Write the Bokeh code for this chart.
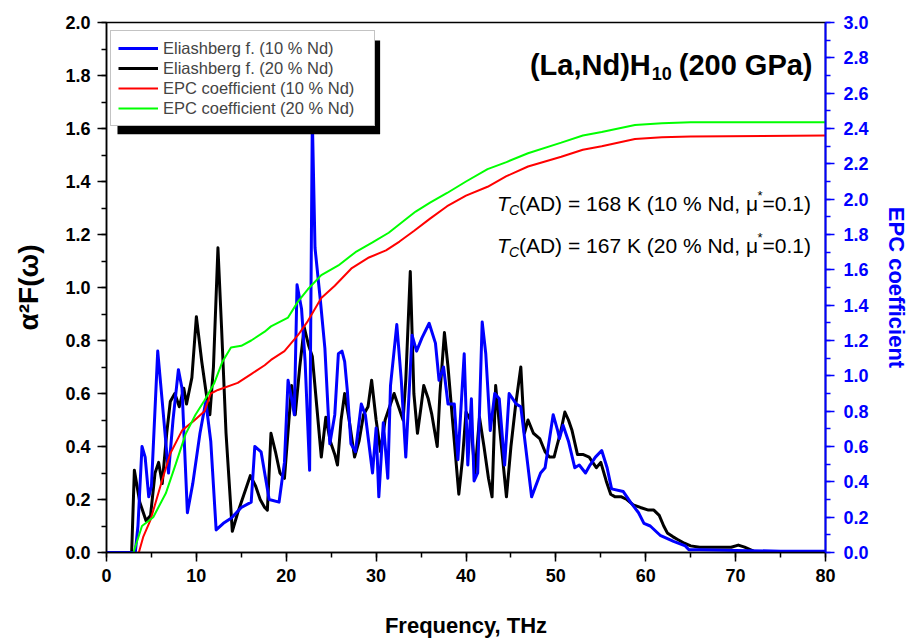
from bokeh.plotting import figure
from bokeh.models import (LinearAxis, Range1d, SingleIntervalTicker, Legend,
                          LegendItem, BoxAnnotation, Label, PrintfTickFormatter)
from bokeh.embed import file_html
from bokeh.resources import INLINE

# ---------------- data ----------------
# Eliashberg function, 20 % Nd (black)
freq_20 = [0.0, 2.8, 3.1, 3.7, 4.4, 4.9, 5.4, 5.8, 6.2, 6.7,
           7.1, 7.6, 8.1, 8.6, 8.9, 9.5, 10.0, 10.6, 11.1, 11.5,
           11.9, 12.4, 12.8, 13.3, 14.0, 14.6, 15.3, 16.0, 16.6, 17.1,
           17.6, 17.9, 18.3, 18.8, 19.3, 19.8, 20.3, 20.6, 21.0, 21.5,
           22.0, 22.5, 22.9, 23.4, 23.9, 24.4, 24.9, 25.4, 25.7, 26.1,
           26.5, 27.0, 27.6, 28.1, 28.6, 29.1, 29.5, 30.0, 30.5, 31.0,
           31.5, 32.0, 32.5, 33.0, 33.3, 33.8, 34.2, 34.6, 35.0, 35.3,
           35.8, 36.2, 36.8, 37.1, 37.6, 38.0, 38.5, 39.2, 39.6, 40.0,
           40.5, 41.0, 41.5, 42.0, 42.5, 42.9, 43.3, 43.8, 44.5, 45.0,
           45.5, 46.1, 46.5, 46.9, 47.5, 48.2, 48.8, 49.3, 49.8, 50.1,
           50.5, 51.0, 51.4, 51.8, 52.4, 53.0, 53.7, 54.5, 55.0, 55.6,
           56.1, 56.6, 57.3, 57.9, 58.6, 59.4, 60.3, 60.9, 61.5, 62.0,
           62.4, 63.0, 63.5, 64.3, 65.0, 66.0, 68.0, 69.5, 70.3, 71.0,
           72.0, 73.0, 80.0]
a2f_20 = [0.0, 0.0, 0.31, 0.19, 0.12, 0.14, 0.30, 0.34, 0.26, 0.45,
          0.57, 0.60, 0.55, 0.62, 0.56, 0.66, 0.89, 0.72, 0.60, 0.52,
          0.70, 1.15, 0.85, 0.45, 0.08, 0.15, 0.22, 0.29, 0.25, 0.20,
          0.17, 0.16, 0.45, 0.38, 0.30, 0.28, 0.50, 0.63, 0.52, 0.70,
          0.85, 0.78, 0.74, 0.55, 0.36, 0.51, 0.42, 0.37, 0.33, 0.50,
          0.60, 0.50, 0.36, 0.42, 0.52, 0.55, 0.65, 0.50, 0.38, 0.50,
          0.55, 0.60, 0.55, 0.50, 0.65, 1.06, 0.60, 0.45, 0.55, 0.63,
          0.58, 0.52, 0.40, 0.60, 0.83, 0.70, 0.50, 0.22, 0.35, 0.53,
          0.50, 0.30, 0.51, 0.40, 0.28, 0.21, 0.63, 0.45, 0.21, 0.40,
          0.55, 0.70, 0.45, 0.50, 0.45, 0.43, 0.38, 0.36, 0.36, 0.40,
          0.45, 0.53, 0.50, 0.46, 0.37, 0.37, 0.36, 0.32, 0.34, 0.27,
          0.22, 0.21, 0.21, 0.20, 0.18, 0.17, 0.16, 0.16, 0.14, 0.10,
          0.074, 0.06, 0.05, 0.035, 0.025, 0.02, 0.02, 0.02, 0.028, 0.02,
          0.005, 0.0, 0.0]

# Eliashberg function, 10 % Nd (blue)
freq_10 = [0.0, 3.2, 3.5, 3.95, 4.3, 4.7, 5.0, 5.7, 6.2, 6.9,
           7.4, 8.0, 8.4, 9.0, 9.6, 10.4, 11.05, 11.6, 12.2, 13.0,
           13.9, 15.0, 16.1, 16.5, 17.2, 17.6, 18.1, 19.2, 19.8, 20.2,
           20.6, 20.9, 21.2, 21.7, 22.1, 22.6, 22.9, 23.2, 23.8, 24.3,
           24.85, 25.4, 25.8, 26.2, 26.5, 26.8, 27.2, 27.7, 28.35, 28.8,
           29.6, 30.0, 30.3, 30.8, 31.3, 31.6, 32.3, 32.8, 33.3, 34.0,
           34.5, 35.1, 35.9, 36.6, 37.0, 37.5, 38.0, 38.7, 39.1, 39.8,
           40.2, 40.6, 40.9, 41.3, 41.8, 42.2, 42.7, 43.2, 43.7, 44.3,
           44.8, 45.6, 46.1, 47.3, 48.3, 48.8, 49.7, 50.2, 50.4, 50.8,
           51.4, 52.1, 52.6, 53.3, 53.8, 54.4, 55.1, 55.7, 56.2, 57.5,
           58.3, 59.2, 59.8, 60.5, 61.6, 63.1, 64.4, 64.8, 66.0, 70.0,
           75.0, 80.0]
a2f_10 = [0.0, 0.0, 0.10, 0.40, 0.36, 0.21, 0.25, 0.76, 0.57, 0.30,
          0.50, 0.69, 0.62, 0.15, 0.26, 0.45, 0.57, 0.42, 0.085, 0.11,
          0.13, 0.17, 0.19, 0.40, 0.38, 0.30, 0.20, 0.19, 0.34, 0.65,
          0.58, 0.52, 1.01, 0.92, 0.72, 0.31, 1.64, 1.15, 0.95, 0.77,
          0.41, 0.52, 0.75, 0.76, 0.72, 0.61, 0.41, 0.38, 0.56, 0.52,
          0.30, 0.47, 0.21, 0.49, 0.28, 0.63, 0.86, 0.65, 0.36, 0.82,
          0.76, 0.81, 0.865, 0.79, 0.65, 0.70, 0.56, 0.56, 0.35, 0.75,
          0.33, 0.58, 0.27, 0.30, 0.87, 0.75, 0.46, 0.60, 0.58, 0.33,
          0.60, 0.56, 0.55, 0.21, 0.30, 0.32, 0.52, 0.46, 0.43, 0.48,
          0.42, 0.32, 0.33, 0.30, 0.33, 0.36, 0.385, 0.32, 0.24, 0.23,
          0.19, 0.15, 0.11, 0.10, 0.065, 0.042, 0.025, 0.01, 0.01, 0.008,
          0.005, 0.005]

# EPC coefficient (cumulative lambda), right axis
freq_epc_10 = [3.6, 4.1, 4.9, 6.2, 7.1, 8.4, 9.7, 10.9, 11.6, 12.4,
               14.6, 16.1, 17.6, 18.3, 19.8, 21.3, 22.4, 23.9, 25.4, 27.3,
               29.2, 31.1, 32.6, 34.2, 36.0, 37.9, 40.0, 42.4, 44.5, 46.9,
               50.6, 53.0, 55.1, 58.8, 61.8, 65.0, 80.0]
epc_10 = [0.0, 0.09, 0.185, 0.41, 0.56, 0.69, 0.745, 0.80, 0.90, 0.92,
          0.96, 1.01, 1.06, 1.09, 1.14, 1.23, 1.31, 1.44, 1.51, 1.61,
          1.67, 1.71, 1.76, 1.82, 1.89, 1.96, 2.02, 2.07, 2.13, 2.185,
          2.24, 2.28, 2.30, 2.34, 2.35, 2.355, 2.36]

freq_epc_20 = [3.0, 3.95, 5.2, 6.6, 7.7, 8.8, 9.9, 10.9, 12.0, 12.9,
               13.85, 15.0, 16.1, 17.6, 18.3, 20.2, 21.3, 22.4, 23.9, 25.8,
               27.7, 29.6, 31.4, 33.3, 34.4, 36.0, 37.9, 40.0, 42.4, 44.5,
               46.9, 50.6, 53.0, 55.1, 58.8, 61.8, 65.0, 80.0]
epc_20 = [0.0, 0.15, 0.20, 0.335, 0.50, 0.67, 0.78, 0.86, 0.96, 1.08,
          1.16, 1.17, 1.20, 1.25, 1.28, 1.33, 1.42, 1.49, 1.57, 1.625,
          1.70, 1.755, 1.81, 1.886, 1.93, 1.98, 2.035, 2.10, 2.17, 2.21,
          2.26, 2.32, 2.36, 2.38, 2.42, 2.43, 2.435, 2.435]

legend_labels = ["Eliashberg f. (10 % Nd)", "Eliashberg f. (20 % Nd)",
                 "EPC coefficient (10 % Nd)", "EPC coefficient (20 % Nd)"]

# ---------------- layout ----------------
W, H = 911, 640
FL, FR, FT, FB = 106, 826, 22, 553
XMAX, YMAX, Y2MAX = 80.0, 2.0, 3.0
FONT = "Liberation Sans"


def X(px):
    return (px - FL) / (FR - FL) * XMAX


def Y(py):
    return (FB - py) / (FB - FT) * YMAX


p = figure(width=W, height=H, x_range=Range1d(0, XMAX), y_range=Range1d(0, YMAX),
           output_backend="svg", toolbar_location=None,
           min_border_left=FL, min_border_right=W - FR,
           min_border_top=FT, min_border_bottom=H - FB,
           background_fill_color="white", border_fill_color="white")
p.grid.visible = False
p.outline_line_color = "black"
p.outline_line_width = 1.5

p.extra_y_ranges = {"epc": Range1d(0, Y2MAX)}


def style_axis(ax, color):
    ax.axis_line_color = color
    ax.major_tick_line_color = color
    ax.minor_tick_line_color = color
    ax.major_tick_line_width = 1.5
    ax.minor_tick_line_width = 1.5
    ax.major_tick_in = 0
    ax.major_tick_out = 9
    ax.minor_tick_in = 0
    ax.minor_tick_out = 5
    ax.major_label_text_font = FONT
    ax.major_label_text_font_style = "bold"
    ax.major_label_text_font_size = "18px"
    ax.major_label_text_color = color
    ax.axis_label_text_font = FONT
    ax.axis_label_text_font_style = "bold"
    ax.axis_label_text_color = color


xa = p.xaxis[0]
ya = p.yaxis[0]
xa.ticker = SingleIntervalTicker(interval=10, num_minor_ticks=2)
ya.ticker = SingleIntervalTicker(interval=0.2, num_minor_ticks=2)
ya.formatter = PrintfTickFormatter(format="%.1f")
xa.axis_label = "Frequency, THz"
ya.axis_label = "α²F(ω)"
style_axis(xa, "black")
style_axis(ya, "black")
xa.axis_line_width = 1.5
ya.axis_line_width = 1.5
xa.major_label_standoff = 7
ya.major_label_standoff = 7
xa.axis_label_text_font_size = "22px"
xa.axis_label_standoff = 28
ya.axis_label_text_font_size = "28px"
ya.axis_label_standoff = 18

ra = LinearAxis(y_range_name="epc",
                ticker=SingleIntervalTicker(interval=0.2, num_minor_ticks=2),
                formatter=PrintfTickFormatter(format="%.1f"),
                axis_label="EPC coefficient")
style_axis(ra, "blue")
ra.axis_line_width = 2
ra.major_label_standoff = 9
ra.axis_label_text_font_size = "22px"
ra.axis_label_standoff = 12
p.add_layout(ra, "right")

# ---------------- curves ----------------
r_black = p.line(freq_20, a2f_20, line_color="black", line_width=3, line_join="round")
r_blue = p.line(freq_10, a2f_10, line_color="#0000ff", line_width=3, line_join="round")
r_red = p.line(freq_epc_10, epc_10, line_color="#ff0000", line_width=2,
               y_range_name="epc")
r_green = p.line(freq_epc_20, epc_20, line_color="#00ff00", line_width=2,
                 y_range_name="epc")

# ---------------- legend with shadow ----------------
LEG_L, LEG_T, LEG_PAD, LEG_ROW, LEG_GW, LEG_STAND, LEG_LW = 110, 33, 7, 20, 40, 5, 204
leg_w = 2 * LEG_PAD + LEG_GW + LEG_STAND + LEG_LW
leg_h = 2 * LEG_PAD + 4 * LEG_ROW
SH = 7
shadow = BoxAnnotation(left=X(LEG_L + SH), right=X(LEG_L + leg_w + SH),
                       top=Y(LEG_T + SH), bottom=Y(LEG_T + leg_h + SH),
                       fill_color="black", fill_alpha=1.0, line_color=None)
p.add_layout(shadow)

legend = Legend(items=[LegendItem(label=legend_labels[0], renderers=[r_blue]),
                       LegendItem(label=legend_labels[1], renderers=[r_black]),
                       LegendItem(label=legend_labels[2], renderers=[r_red]),
                       LegendItem(label=legend_labels[3], renderers=[r_green])],
                location=(LEG_L - FL, FB - (LEG_T + leg_h)),
                margin=0, padding=LEG_PAD, spacing=0,
                glyph_width=LEG_GW, glyph_height=LEG_ROW, label_height=LEG_ROW,
                label_width=LEG_LW, label_standoff=LEG_STAND,
                label_text_font=FONT, label_text_font_size="16.5px",
                border_line_color="#888888", border_line_width=1,
                background_fill_color="white", background_fill_alpha=1.0)
p.add_layout(legend, "center")

# ---------------- texts ----------------
def lab(px, py, text, size, style="normal", align="left", color="black"):
    p.add_layout(Label(x=X(px), y=Y(py), text=text, text_font=FONT,
                       text_font_size=size, text_font_style=style,
                       text_align=align, text_baseline="alphabetic",
                       text_color=color))

# title
lab(651, 65, "(La,Nd)H", "29px", "bold", "right")
lab(652, 73, "10", "18px", "bold")
lab(813, 65, "(200 GPa)", "29px", "bold", "right")

# Tc annotations
for base, tc, nd in ((203, "168", "10"), (245, "167", "20")):
    lab(497, base, "T", "21px", "italic")
    lab(509, base + 7, "C", "14px", "italic")
    lab(519, base, "(AD) = " + tc + " K (" + nd + " % Nd, μ", "21px")
    lab(758, base - 8, "*", "13px")
    lab(763, base, "=0.1)", "21px")

open("out.html", "w").write(file_html(p, INLINE))
